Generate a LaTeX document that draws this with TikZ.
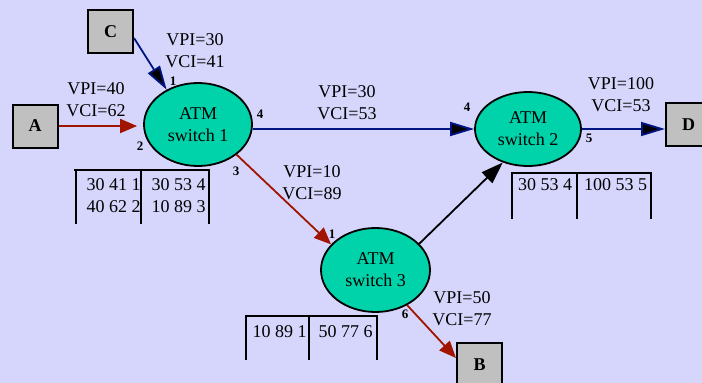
\documentclass[tikz,border=0pt]{standalone}
\usepackage{fontspec}
\setmainfont{Liberation Serif}
\usetikzlibrary{arrows.meta,shapes.geometric}
\definecolor{bg}{RGB}{214,214,252}
\definecolor{teal}{RGB}{0,210,170}
\definecolor{boxgray}{RGB}{192,192,192}
\definecolor{dred}{RGB}{160,20,0}
\definecolor{navy}{RGB}{0,20,130}
\tikzset{
  sw/.style={ellipse,draw=black,line width=1.8pt,fill=teal,minimum width=108pt,minimum height=83pt,inner sep=0pt,align=center,font=\fontsize{18}{22}\selectfont},
  host/.style={rectangle,draw=black,line width=2pt,fill=boxgray,minimum width=45pt,minimum height=43pt,inner sep=0pt,font=\fontsize{18}{22}\selectfont\bfseries},
  lbl/.style={align=center,inner sep=0pt,font=\fontsize{18}{22}\selectfont},
  port/.style={inner sep=0pt,font=\fontsize{13}{15}\selectfont\bfseries},
  cell/.style={inner sep=0pt,font=\fontsize{18}{22}\selectfont},
  tabline/.style={line width=2pt,black},
  redlink/.style={line width=1.8pt,dred,-{Triangle[length=17pt,width=14pt]}},
  bluelink/.style={line width=1.8pt,navy,-{Triangle[length=24pt,width=14pt,fill=black]}},
  blacklink/.style={line width=1.8pt,black,-{Triangle[length=22pt,width=15pt]}},
}
\begin{document}
\begin{tikzpicture}[x=1pt,y=-1pt]
\useasboundingbox (0,0) rectangle (702,383);
\fill[bg] (0,0) rectangle (702,383);
% nodes
\node[host] (C) at (110.5,31.5) {C};
\node[host] (A) at (35,126) {A};
\node[host] (D) at (688.5,124.5) {D};
\node[host] (B) at (479.5,364.5) {B};
\node[sw] (s1) at (198,124.5) {ATM\\switch 1};
\node[sw,minimum width=106pt,minimum height=74pt] (s2) at (528,129) {ATM\\switch 2};
\node[sw,minimum width=109pt,minimum height=84pt] (s3) at (375.5,270) {ATM\\switch 3};
% connectors
\draw[redlink] (A.east) -- ([xshift=-6pt]s1.west |- A.east);
\draw[bluelink] (C.east |- 0,38) -- (s1.132);
\draw[bluelink] (s1.east |- s2.west) -- (s2.west);
\draw[bluelink] (s2.east) -- (D.west |- s2.east);
\draw[redlink] (s1.-38) -- (s3.150);
\draw[blacklink] (s3.31) -- (s2.-127);
\draw[redlink] (s3.-48) -- (B.west |- 0,358);
% labels
\node[lbl] (l1) at (195,50.5) {VPI=30\\VCI=41};
\node[lbl] (l2) at (96,99.5) {VPI=40\\VCI=62};
\node[lbl] (l3) at (347,103) {VPI=30\\VCI=53};
\node[lbl] (l4) at (312,182.5) {VPI=10\\VCI=89};
\node[lbl] (l5) at (621,94.5) {VPI=100\\VCI=53};
\node[lbl] (l6) at (462,308.5) {VPI=50\\VCI=77};
% ports
\node[port] (p11) at (173,81) {1};
\node[port] (p14) at (260,114) {4};
\node[port] (p12) at (140,146) {2};
\node[port] (p13) at (236,171) {3};
\node[port] (p24) at (467,107) {4};
\node[port] (p25) at (589,138) {5};
\node[port] (p31) at (332,234) {1};
\node[port] (p36) at (405,314) {6};
% table 1
\draw[tabline] (74,170) -- (210,170);
\draw[tabline] (76,170) -- (76,224);
\draw[tabline] (141,170) -- (141,224);
\draw[tabline] (209,170) -- (209,224);
\node[cell] (t11) at (113.5,185) {30 41 1};
\node[cell] (t12) at (113.5,207) {40 62 2};
\node[cell] (t13) at (178.5,185) {30 53 4};
\node[cell] (t14) at (178.5,207) {10 89 3};
% table 2
\draw[tabline] (511,173) -- (652,173);
\draw[tabline] (512,173) -- (512,219);
\draw[tabline] (577,173) -- (577,219);
\draw[tabline] (651,173) -- (651,219);
\node[cell] (t21) at (545,185) {30 53 4};
\node[cell] (t22) at (615.5,185) {100 53 5};
% table 3
\draw[tabline] (245,316) -- (378,316);
\draw[tabline] (246,316) -- (246,360);
\draw[tabline] (309,316) -- (309,360);
\draw[tabline] (377,316) -- (377,360);
\node[cell] (t31) at (279.5,332) {10 89 1};
\node[cell] (t32) at (345.5,332) {50 77 6};
\end{tikzpicture}
\end{document}
